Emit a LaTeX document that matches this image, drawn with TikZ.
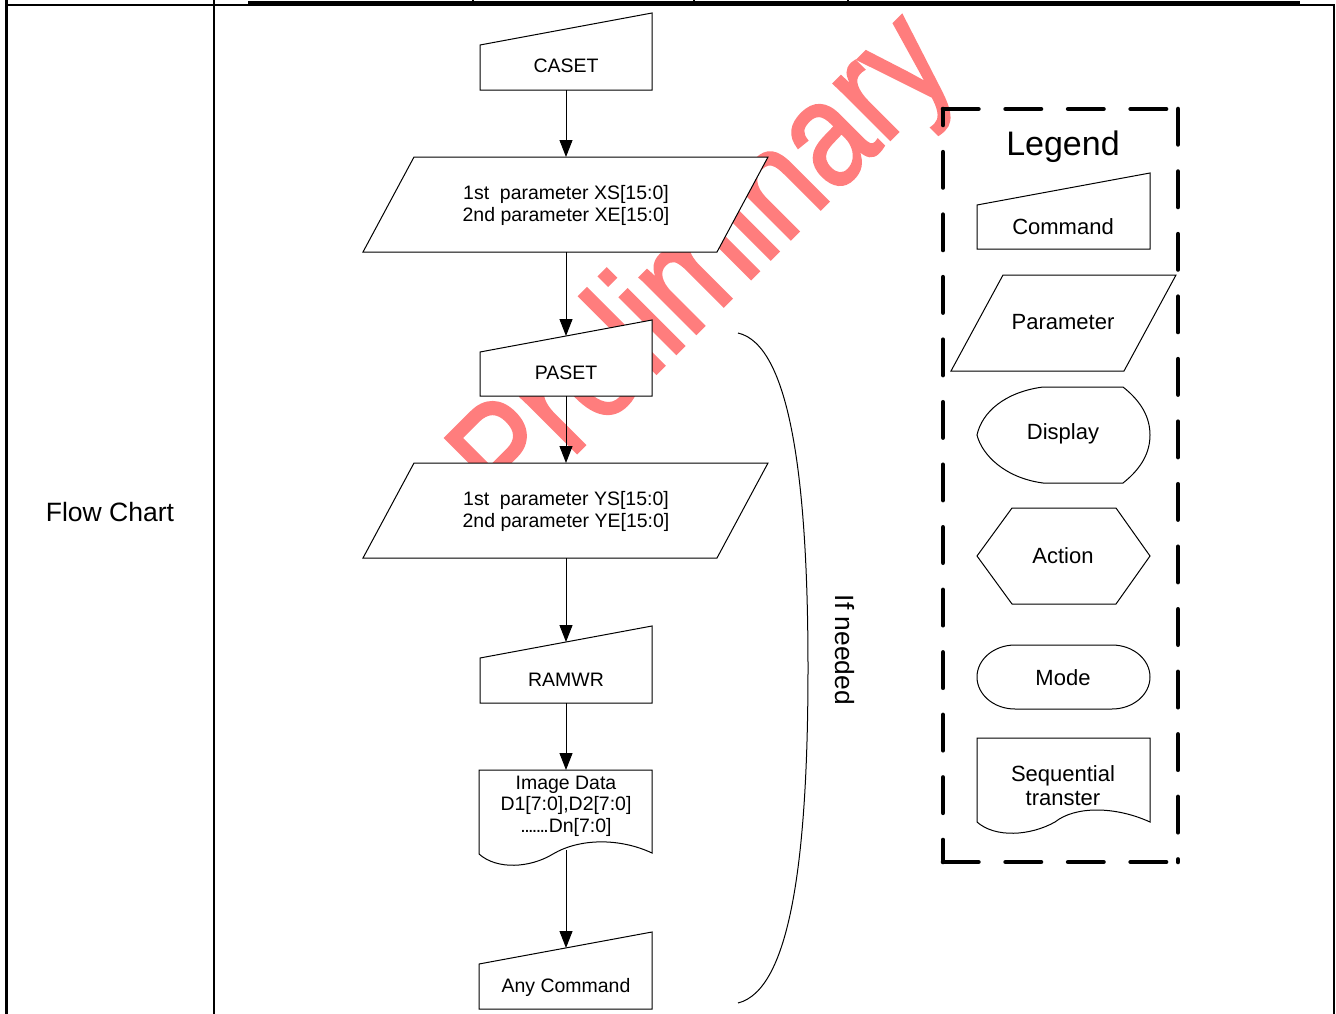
\documentclass[tikz,border=0pt]{standalone}
\usepackage{fontspec}
\setmainfont{Liberation Sans}
\newfontfamily\wmfont[FakeBold=1.6]{Liberation Sans}
\usetikzlibrary{arrows.meta}
\begin{document}
\begin{tikzpicture}[x=0.75pt,y=-0.75pt,
  shp/.style={draw=black, line width=0.75pt, fill=white, line join=miter},
  arr/.style={-{Triangle[length=12.75pt,width=9.75pt]}, line width=0.75pt},
  txt/.style={align=center, inner sep=0pt, font=\fontsize{14.6}{16.5}\selectfont},
  lgt/.style={align=center, inner sep=0pt, font=\fontsize{16.5}{18}\selectfont},
  dashln/.style={line width=3.4pt, dash pattern=on 26.6pt off 20.3pt, line cap=round},
  tbl/.style={line width=1.5pt}]
\useasboundingbox (0,0) rectangle (1336,1014);

% table frame
\draw[line width=2.25pt] (6.5,0) -- (6.5,1014);
\draw[tbl] (214,0) -- (214,1014);
\draw[tbl] (6.5,5) -- (1334,5);
\fill (248,0.5) rectangle (1300,6);
\draw[tbl] (1334,4) -- (1334,1014);
\foreach \xx in {473,694,848} \draw[line width=1pt] (\xx,0) -- (\xx,2);

% watermark
\node[text={rgb,255:red,255;green,125;blue,125}, font=\wmfont\fontsize{113}{113}\selectfont,
      inner sep=0pt, anchor=base west, rotate=45, xscale=0.84] (wm) at (511,519) {Preliminary};

\node[font=\fontsize{19.9}{22}\selectfont, inner sep=0pt] (fc) at (110,512) {Flow Chart};

% CASET
\path[shp] (480,90) -- (480,45) -- (652,13) -- (652,90) -- cycle;
\node[txt] (caset) at (566,66) {CASET};
\coordinate (casetS) at (566,90);

% parameter 1
\path[shp] (414,157) -- (768,157) -- (717,252) -- (363,252) -- cycle;
\node[txt] (par1) at (566,205) {1st\ \ parameter XS[15:0]\\2nd parameter XE[15:0]};
\coordinate (par1N) at (566,157);
\coordinate (par1S) at (566,252);

% PASET
\path[shp] (480,396) -- (480,352) -- (652,320) -- (652,396) -- cycle;
\node[txt] (paset) at (566,373) {PASET};
\coordinate (pasetN) at (566,336);
\coordinate (pasetS) at (566,396);

% parameter 2
\path[shp] (414,463) -- (768,463) -- (717,558) -- (363,558) -- cycle;
\node[txt] (par2) at (566,511) {1st\ \ parameter YS[15:0]\\2nd parameter YE[15:0]};
\coordinate (par2N) at (566,463);
\coordinate (par2S) at (566,558);

% RAMWR
\path[shp] (480,703) -- (480,658) -- (652,626) -- (652,703) -- cycle;
\node[txt] (ramwr) at (566,680) {RAMWR};
\coordinate (ramwrN) at (566,642);
\coordinate (ramwrS) at (566,703);

% Image data
\path[shp] (479,770) -- (652,770) -- (652,853)
   .. controls (620,838) and (580,838) .. (553,854)
   .. controls (530,868) and (497,870) .. (479,854) -- cycle;
\node[txt, font=\fontsize{14.6}{16.1}\selectfont] (img) at (566,806)
   {Image Data\\D1[7:0],D2[7:0]\\.\kern-1.2pt.\kern-1.2pt.\kern-1.2pt.\kern-1.2pt.\kern-1.2pt.\kern-1.2pt.Dn[7:0]};
\coordinate (imgN) at (566,770);
\coordinate (imgS) at (566,850);

% Any command
\path[shp] (479,1009) -- (479,964) -- (652,932) -- (652,1009) -- cycle;
\node[txt] (anyc) at (566,987) {Any Command};
\coordinate (anycN) at (566,948);

% arrows
\draw[arr] (casetS) -- (par1N);
\draw[arr] (par1S) -- (pasetN);
\draw[arr] (pasetS) -- (par2N);
\draw[arr] (par2S) -- (ramwrN);
\draw[arr] (ramwrS) -- (imgN);
\draw[arr] (imgS) -- (anycN);

% if needed bracket
\coordinate (brT) at (738,333);
\coordinate (brB) at (738,1003);
\draw[line width=0.75pt] (brT) .. controls (790,345) and (808,480) .. (808,668)
   .. controls (808,860) and (790,990) .. (brB);
\node[font=\fontsize{19.8}{20}\selectfont, rotate=-90, inner sep=0pt] (ifn) at (845,650) {If needed};

% legend
\coordinate (lgTL) at (943,109);
\coordinate (lgBL) at (943,862);
\coordinate (lgBR) at (1178,862);
\coordinate (lgTR) at (1178,109);
\draw[dashln, dash phase=14.6pt] (lgTL) -- (lgBL);
\draw[dashln] (lgBL) -- (lgBR);
\draw[dashln] (lgTL) -- (lgTR);
\draw[dashln] (lgTR) -- (lgBR);
\node[font=\fontsize{25.5}{26}\selectfont, inner sep=0pt] (lg) at (1063,147) {Legend};

\path[shp] (977,249) -- (977,205) -- (1150,173) -- (1150,249) -- cycle;
\node[lgt] (lcmd) at (1063,227) {Command};

\path[shp] (1003,275) -- (1176,275) -- (1124,371) -- (951,371) -- cycle;
\node[lgt] (lpar) at (1063,322) {Parameter};

\path[shp] (1043,387) -- (1123,387) .. controls (1142,402) and (1150,418) .. (1150,435)
   .. controls (1150,452) and (1142,468) .. (1123,483) -- (1043,483)
   .. controls (1005,478) and (982,455) .. (977,435)
   .. controls (982,412) and (1005,392) .. (1043,387) -- cycle;
\node[lgt] (ldis) at (1063,434) {Display};

\path[shp] (977,556) -- (1012,508) -- (1116,508) -- (1150,556) -- (1116,604) -- (1012,604) -- cycle;
\node[lgt] (lact) at (1063,556) {Action};

\path[shp] (1015,645) -- (1112,645) .. controls (1133,645) and (1150,659.3) .. (1150,677)
   .. controls (1150,694.7) and (1133,709) .. (1112,709) -- (1015,709)
   .. controls (994,709) and (977,694.7) .. (977,677)
   .. controls (977,659.3) and (994,645) .. (1015,645) -- cycle;
\node[lgt] (lmode) at (1063,678) {Mode};

\path[shp] (977,738) -- (1150,738) -- (1150,822)
   .. controls (1115,806) and (1075,806) .. (1055,822)
   .. controls (1030,836) and (995,838) .. (977,822) -- cycle;
\node[lgt, font=\fontsize{16.5}{18}\selectfont] (lseq) at (1063,786) {Sequential\\transter};
\end{tikzpicture}
\end{document}
